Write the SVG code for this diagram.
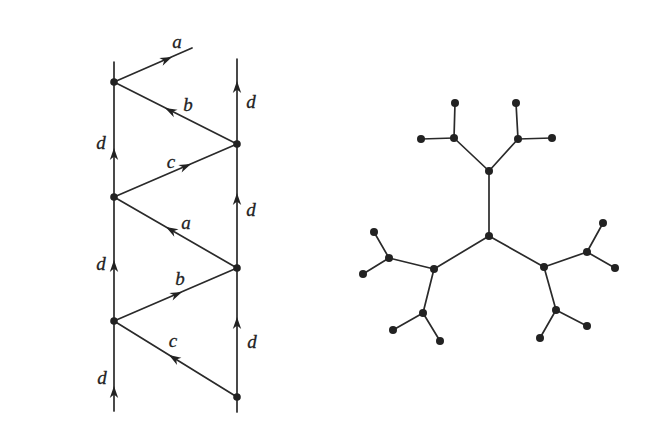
<svg xmlns="http://www.w3.org/2000/svg" xmlns:xlink="http://www.w3.org/1999/xlink" width="656" height="440" viewBox="0 0 656 440">
<style>
.ln{stroke:#2a2a2a;stroke-width:1.7;fill:none;stroke-linecap:round}
.nd{fill:#222}
.lb{font-family:"Liberation Serif","DejaVu Serif",serif;font-style:italic;font-size:19px;fill:#222;stroke:#222;stroke-width:0.3;text-anchor:middle}
.ah{fill:#222}
</style>
<defs>
<path id="ah" d="M0,0 L-12,-4.2 L-8.5,0 L-12,4.2 Z"/>
</defs>
<rect width="656" height="440" fill="#fff"/>
<g id="connectors">
<line class="ln" x1="114" y1="62" x2="114" y2="411"/>
<line class="ln" x1="237" y1="59" x2="237" y2="412"/>
<line class="ln" x1="114" y1="82" x2="192" y2="48"/>
<line class="ln" x1="237" y1="144" x2="114" y2="82"/>
<line class="ln" x1="114" y1="197" x2="237" y2="144"/>
<line class="ln" x1="237" y1="268" x2="114" y2="197"/>
<line class="ln" x1="114" y1="321" x2="237" y2="268"/>
<line class="ln" x1="237" y1="397" x2="114" y2="321"/>
<g class="ah">
<use xlink:href="#ah" transform="translate(114,148) rotate(-90)"/>
<use xlink:href="#ah" transform="translate(114,260) rotate(-90)"/>
<use xlink:href="#ah" transform="translate(114,386) rotate(-90)"/>
<use xlink:href="#ah" transform="translate(237,81) rotate(-90)"/>
<use xlink:href="#ah" transform="translate(237,193) rotate(-90)"/>
<use xlink:href="#ah" transform="translate(237,317) rotate(-90)"/>
<use xlink:href="#ah" transform="translate(172,57) rotate(-23.5)"/>
<use xlink:href="#ah" transform="translate(165,108) rotate(-153.3)"/>
<use xlink:href="#ah" transform="translate(191,164) rotate(-23.3)"/>
<use xlink:href="#ah" transform="translate(166,227) rotate(-150)"/>
<use xlink:href="#ah" transform="translate(182,292) rotate(-23.3)"/>
<use xlink:href="#ah" transform="translate(169,355) rotate(-148.3)"/>
</g>
<g class="ln">
<line x1="489" y1="171" x2="489" y2="236"/>
<line x1="489" y1="171" x2="454" y2="138"/>
<line x1="454" y1="138" x2="455" y2="103"/>
<line x1="454" y1="138" x2="421" y2="139"/>
<line x1="489" y1="171" x2="518" y2="139"/>
<line x1="518" y1="139" x2="516" y2="103"/>
<line x1="518" y1="139" x2="552" y2="138"/>
<line x1="489" y1="236" x2="434" y2="269"/>
<line x1="434" y1="269" x2="389" y2="258"/>
<line x1="389" y1="258" x2="374" y2="232"/>
<line x1="389" y1="258" x2="363" y2="274"/>
<line x1="434" y1="269" x2="423" y2="313"/>
<line x1="423" y1="313" x2="393" y2="330"/>
<line x1="423" y1="313" x2="440" y2="341"/>
<line x1="489" y1="236" x2="544" y2="267"/>
<line x1="544" y1="267" x2="587" y2="252"/>
<line x1="587" y1="252" x2="603" y2="223"/>
<line x1="587" y1="252" x2="615" y2="268"/>
<line x1="544" y1="267" x2="556" y2="310"/>
<line x1="556" y1="310" x2="587" y2="326"/>
<line x1="556" y1="310" x2="540" y2="338"/>
</g>
</g>
<g id="labels">
<text class="lb" x="177" y="48">a</text>
<text class="lb" x="188" y="111">b</text>
<text class="lb" x="171" y="168">c</text>
<text class="lb" x="186" y="229">a</text>
<text class="lb" x="180" y="285">b</text>
<text class="lb" x="173" y="347">c</text>
<text class="lb" x="101" y="149">d</text>
<text class="lb" x="101" y="270">d</text>
<text class="lb" x="102" y="384">d</text>
<text class="lb" x="251" y="108">d</text>
<text class="lb" x="251" y="216">d</text>
<text class="lb" x="252" y="348">d</text>
</g>
<g id="n-L1"><circle class="nd" cx="114" cy="82" r="3.8"/></g>
<g id="n-L2"><circle class="nd" cx="114" cy="197" r="3.8"/></g>
<g id="n-L3"><circle class="nd" cx="114" cy="321" r="3.8"/></g>
<g id="n-R1"><circle class="nd" cx="237" cy="144" r="3.8"/></g>
<g id="n-R2"><circle class="nd" cx="237" cy="268" r="3.8"/></g>
<g id="n-R3"><circle class="nd" cx="237" cy="397" r="3.8"/></g>
<g id="t-top"><circle class="nd" cx="489" cy="171" r="4"/></g>
<g id="t-center"><circle class="nd" cx="489" cy="236" r="4"/></g>
<g id="t-ul"><circle class="nd" cx="454" cy="138" r="4"/></g>
<g id="t-ul1"><circle class="nd" cx="455" cy="103" r="4"/></g>
<g id="t-ul2"><circle class="nd" cx="421" cy="139" r="4"/></g>
<g id="t-ur"><circle class="nd" cx="518" cy="139" r="4"/></g>
<g id="t-ur1"><circle class="nd" cx="516" cy="103" r="4"/></g>
<g id="t-ur2"><circle class="nd" cx="552" cy="138" r="4"/></g>
<g id="t-lb"><circle class="nd" cx="434" cy="269" r="4"/></g>
<g id="t-lba"><circle class="nd" cx="389" cy="258" r="4"/></g>
<g id="t-lba1"><circle class="nd" cx="374" cy="232" r="4"/></g>
<g id="t-lba2"><circle class="nd" cx="363" cy="274" r="4"/></g>
<g id="t-lbb"><circle class="nd" cx="423" cy="313" r="4"/></g>
<g id="t-lbb1"><circle class="nd" cx="393" cy="330" r="4"/></g>
<g id="t-lbb2"><circle class="nd" cx="440" cy="341" r="4"/></g>
<g id="t-rb"><circle class="nd" cx="544" cy="267" r="4"/></g>
<g id="t-rba"><circle class="nd" cx="587" cy="252" r="4"/></g>
<g id="t-rba1"><circle class="nd" cx="603" cy="223" r="4"/></g>
<g id="t-rba2"><circle class="nd" cx="615" cy="268" r="4"/></g>
<g id="t-rbb"><circle class="nd" cx="556" cy="310" r="4"/></g>
<g id="t-rbb1"><circle class="nd" cx="587" cy="326" r="4"/></g>
<g id="t-rbb2"><circle class="nd" cx="540" cy="338" r="4"/></g>
</svg>
